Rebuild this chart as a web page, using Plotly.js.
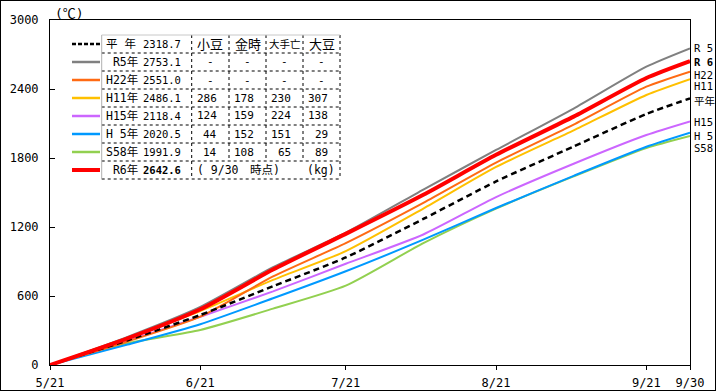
<!DOCTYPE html>
<html><head><meta charset="utf-8">
<script src="https://cdn.plot.ly/plotly-3.0.1.min.js"></script>
<style>
html,body{margin:0;padding:0;background:#fff}
#wrap{position:relative;width:716px;height:391px}
#chart{width:716px;height:391px}
#frame{position:absolute;left:0;top:0;width:716px;height:391px;border:1px solid #000;box-sizing:border-box;pointer-events:none}
</style></head><body>
<div id="wrap"><div id="chart"></div><div id="frame"></div></div>
<script>
// ---- data ----
const dates = ['2024-05-21','2024-06-06','2024-06-21','2024-07-06','2024-07-21','2024-08-06','2024-08-21','2024-09-06','2024-09-21','2024-09-30'];
const heinen = [0, 215, 435, 685, 935, 1270, 1596, 1900, 2183, 2318.7];
const r5     = [0, 245, 505, 850, 1150, 1525, 1870, 2230, 2594, 2753.1];
const h22    = [0, 205, 420, 770, 1060, 1410, 1760, 2090, 2420, 2551.0];
const h11    = [0, 238, 470, 740, 990, 1360, 1722, 2040, 2348, 2486.1];
const h15    = [0, 210, 420, 640, 880, 1135, 1460, 1750, 2000, 2118.4];
const h5     = [0, 178, 355, 580, 815, 1090, 1365, 1645, 1898, 2020.5];
const s58    = [0, 190, 305, 490, 690, 1060, 1360, 1640, 1887, 1991.9];
const r6     = [0, 232, 485, 830, 1140, 1480, 1828, 2160, 2496, 2642.6];

const tickDates  = ['2024-05-21','2024-06-21','2024-07-21','2024-08-21','2024-09-21','2024-09-30'];
const tickLabels = ['5/21','6/21','7/21','8/21','9/21','9/30'];
const yTicks     = [0, 600, 1200, 1800, 2400, 3000];

const rowNames  = ['平 年', ' R5年', 'H22年', 'H11年', 'H15年', 'H 5年', 'S58年'];
const rowTotals = ['2318.7', '2753.1', '2551.0', '2486.1', '2118.4', '2020.5', '1991.9'];
const cropHeaders = ['小豆', '金時', '大手亡', '大豆'];
const azuki   = ['-', '-', '286', '124', '44', '14'];
const kintoki = ['-', '-', '178', '159', '152', '108'];
const otebo   = ['-', '-', '230', '224', '151', '65'];
const daizu   = ['-', '-', '307', '138', '29', '89'];
const r6Name = 'R6年', r6Total = '2642.6', r6Note = '( 9/30　時点)', unitNote = '(kg)';
const endLabels = ['R 5', 'R 6', 'H22', 'H11', '平年', 'H15', 'H 5', 'S58'];
const unitLabel = '(℃)';

// ---- styles ----
const C = {heinen:'#000000', r5:'#808080', h22:'#FF6A13', h11:'#FFC000', h15:'#CC66FF', h5:'#0099FF', s58:'#92D050', r6:'#FF0000'};
const MONO = "'DejaVu Sans Mono', 'Noto Sans CJK JP', monospace";

function tr(y, color, width, dash){
  return {x: dates, y: y, type:'scatter', mode:'lines', line:{color:color, width:width, dash:dash||'solid', shape:'spline', smoothing:0.6}, hoverinfo:'skip'};
}
const traces = [
  tr(s58, C.s58, 2), tr(h5, C.h5, 2), tr(h15, C.h15, 2), tr(h11, C.h11, 2),
  tr(h22, C.h22, 2), tr(r5, C.r5, 2), tr(heinen, C.heinen, 2.5, '6px,4px'), tr(r6, C.r6, 4)
];

// pixel -> paper helpers (plot area 50..690 x, 20..365 y)
const L=50, R=690, T=20, B=365;
const px = x => (x - L) / (R - L);
const py = y => (B - y) / (B - T);

const shapes = [];
const ann = [];

// legend table geometry
const tL = 101.7, tR = 340, tT = 35, rowH = 18, nRows = 8;
const colX = [191.7, 229, 266, 303, 340];
const tB = tT + rowH * nRows;
shapes.push({type:'rect', xref:'paper', yref:'paper', x0:px(tL), x1:px(tR), y0:py(tB), y1:py(tT), fillcolor:'#fff', line:{width:0}, layer:'above'});
const dotLine = (x0,y0,x1,y1) => shapes.push({type:'line', xref:'paper', yref:'paper', x0:px(x0), x1:px(x1), y0:py(y0), y1:py(y1), line:{color:'#000', width:1, dash:'dot'}, layer:'above'});
for (let i = 1; i <= nRows; i++) dotLine(tL, tT + rowH*i, tR, tT + rowH*i);
dotLine(colX[0], tT, colX[0], tB);
for (let c = 1; c < colX.length; c++) dotLine(colX[c], tT, colX[c], tT + rowH*7);
dotLine(tR, tT + rowH*7, tR, tB);
shapes.push({type:'line', xref:'paper', yref:'paper', x0:px(tL), x1:px(tL), y0:py(tT), y1:py(tB), line:{color:'#b0b0b0', width:1}, layer:'above'});
shapes.push({type:'line', xref:'paper', yref:'paper', x0:px(tL), x1:px(tR), y0:py(tT), y1:py(tT), line:{color:'#c8c8c8', width:1}, layer:'above'});

// legend samples
const sampleStyles = [
  {c:C.heinen, w:2.5, d:'4px,2px'}, {c:C.r5, w:2.5}, {c:C.h22, w:2.5}, {c:C.h11, w:2.5},
  {c:C.h15, w:2.5}, {c:C.h5, w:2.5}, {c:C.s58, w:2.5}, {c:C.r6, w:4}
];
sampleStyles.forEach((s, i) => {
  const yc = tT + rowH*i + rowH/2;
  shapes.push({type:'line', xref:'paper', yref:'paper', x0:px(72), x1:px(100), y0:py(yc), y1:py(yc), line:{color:s.c, width:s.w, dash:s.d||'solid'}, layer:'above'});
});

function txt(x, y, text, anchor, size, opts){
  ann.push(Object.assign({xref:'paper', yref:'paper', x:px(x), y:py(y), text:text, showarrow:false, xanchor:anchor, yanchor:'middle',
    font:{family:MONO, size:size||11, color:'#000'}}, opts||{}));
}
const cropCols = [azuki, kintoki, otebo, daizu];
rowNames.forEach((n, i) => {
  const yc = tT + rowH*i + rowH/2;
  txt(104, yc, n, 'left', 11.5);
  txt(183, yc, rowTotals[i], 'right', 10.5);
  if (i === 0) {
    cropHeaders.forEach((h, c) => txt((colX[c] + colX[c+1]) / 2, yc, h, 'center', h.length > 2 ? 10.5 : 13));
  } else {
    cropCols.forEach((col, c) => {
      const v = col[i-1];
      if (v === '-') txt((colX[c] + colX[c+1]) / 2, yc, v, 'center', 11);
      else txt(colX[c+1] - 10, yc, v, 'right', 11);
    });
  }
});
{
  const yc = tT + rowH*7 + rowH/2;
  txt(104, yc, ' ' + r6Name, 'left', 11.5);
  txt(183, yc, '<b>' + r6Total + '</b>', 'right', 10.5);
  txt(colX[0] + 3, yc, r6Note, 'left', 11.5);
  txt(tR - 3, yc, unitNote, 'right', 11.5);
}

// end labels
const endY = [48, 62, 75, 86, 101, 122, 136, 148];
endLabels.forEach((t, i) => txt(692, endY[i], i === 1 ? '<b>' + t + '</b>' : t, 'left', 10.5));
// unit label
txt(53, 13, unitLabel, 'left', 13);

const layout = {
  width:716, height:391,
  margin:{l:L, r:716-R, t:T, b:391-B, pad:0},
  paper_bgcolor:'#fff', plot_bgcolor:'#fff',
  showlegend:false,
  xaxis:{type:'date', range:[dates[0], dates[dates.length-1]], tickvals:tickDates, ticktext:tickLabels,
    ticks:'outside', ticklen:4, tickcolor:'#000', showline:true, mirror:true, linecolor:'#000', linewidth:1,
    showgrid:false, zeroline:false, tickfont:{family:MONO, size:12, color:'#000'}, ticklabelstandoff:3, fixedrange:true},
  yaxis:{range:[0,3000], tickvals:yTicks, ticktext:yTicks.map(String),
    ticks:'inside', ticklen:5, tickcolor:'#000', showline:true, mirror:true, linecolor:'#000', linewidth:1,
    showgrid:false, zeroline:false, tickfont:{family:MONO, size:12, color:'#000'}, ticklabelstandoff:8, fixedrange:true},
  shapes:shapes, annotations:ann
};
Plotly.newPlot('chart', traces, layout, {displayModeBar:false, staticPlot:true});
</script>
</body></html>
